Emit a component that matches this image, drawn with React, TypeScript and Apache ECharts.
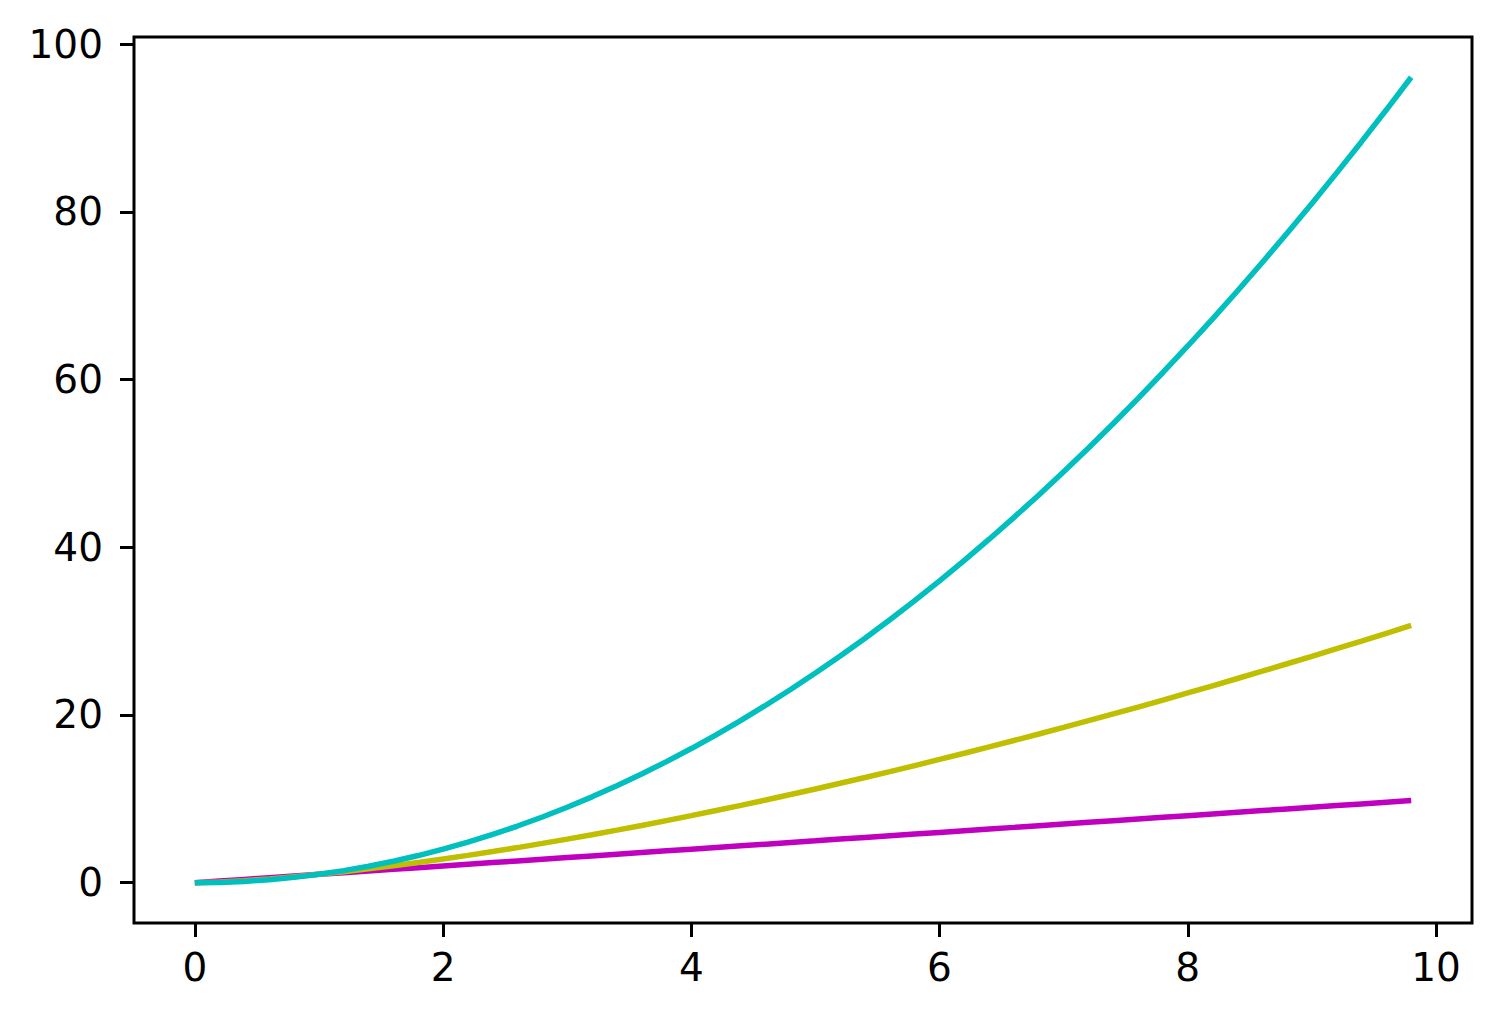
import React, { useEffect, useRef } from 'react';
import * as echarts from 'echarts';

// sample positions along x
const xs = [
    0, 0.2, 0.4, 0.6, 0.8, 1, 1.2, 1.4, 1.6, 1.8,
    2, 2.2, 2.4, 2.6, 2.8, 3, 3.2, 3.4, 3.6, 3.8,
    4, 4.2, 4.4, 4.6, 4.8, 5, 5.2, 5.4, 5.6, 5.8,
    6, 6.2, 6.4, 6.6, 6.8, 7, 7.2, 7.4, 7.6, 7.8,
    8, 8.2, 8.4, 8.6, 8.8, 9, 9.2, 9.4, 9.6, 9.8
];

// magenta line
const linear = [
    0, 0.2, 0.4, 0.6, 0.8, 1, 1.2, 1.4, 1.6, 1.8,
    2, 2.2, 2.4, 2.6, 2.8, 3, 3.2, 3.4, 3.6, 3.8,
    4, 4.2, 4.4, 4.6, 4.8, 5, 5.2, 5.4, 5.6, 5.8,
    6, 6.2, 6.4, 6.6, 6.8, 7, 7.2, 7.4, 7.6, 7.8,
    8, 8.2, 8.4, 8.6, 8.8, 9, 9.2, 9.4, 9.6, 9.8
];

// yellow curve
const middle = [
    0, 0.09, 0.25, 0.46, 0.72, 1, 1.31, 1.66, 2.02, 2.42,
    2.83, 3.26, 3.72, 4.19, 4.69, 5.2, 5.72, 6.27, 6.83, 7.41,
    8, 8.61, 9.23, 9.87, 10.52, 11.18, 11.86, 12.55, 13.25, 13.97,
    14.7, 15.44, 16.19, 16.96, 17.73, 18.52, 19.32, 20.13, 20.95, 21.78,
    22.63, 23.48, 24.35, 25.22, 26.11, 27, 27.91, 28.82, 29.74, 30.68
];

// cyan curve
const square = [
    0, 0.04, 0.16, 0.36, 0.64, 1, 1.44, 1.96, 2.56, 3.24,
    4, 4.84, 5.76, 6.76, 7.84, 9, 10.24, 11.56, 12.96, 14.44,
    16, 17.64, 19.36, 21.16, 23.04, 25, 27.04, 29.16, 31.36, 33.64,
    36, 38.44, 40.96, 43.56, 46.24, 49, 51.84, 54.76, 57.76, 60.84,
    64, 67.24, 70.56, 73.96, 77.44, 81, 84.64, 88.36, 92.16, 96.04
];

const xTicks = [0, 2, 4, 6, 8, 10];
const yTicks = [0, 20, 40, 60, 80, 100];

const pairs = (ys: number[]) => xs.map((x, i) => [x, ys[i]]);

const labelStyle = {
    color: '#000',
    fontSize: 39,
    fontFamily: 'DejaVu Sans'
};

const App: React.FC = () => {
    const chartRef = useRef<HTMLDivElement>(null);

    useEffect(() => {
        if (!chartRef.current) return;
        const chart = echarts.init(chartRef.current, null, { renderer: 'svg' });
        chart.setOption({
            animation: false,
            backgroundColor: '#fff',
            grid: {
                left: 134,
                right: 29,
                top: 37,
                bottom: 98,
                show: true,
                borderColor: '#000',
                borderWidth: 3,
                backgroundColor: 'transparent'
            },
            xAxis: {
                type: 'value',
                min: -0.49,
                max: 10.29,
                axisLine: { show: false, onZero: false },
                splitLine: { show: false },
                axisTick: {
                    show: true,
                    customValues: xTicks,
                    length: 14,
                    lineStyle: { color: '#000', width: 3 }
                },
                axisLabel: {
                    ...labelStyle,
                    customValues: xTicks,
                    margin: 25
                }
            },
            yAxis: {
                type: 'value',
                min: -4.802,
                max: 100.842,
                axisLine: { show: false, onZero: false },
                splitLine: { show: false },
                axisTick: {
                    show: true,
                    customValues: yTicks,
                    length: 14,
                    lineStyle: { color: '#000', width: 3 }
                },
                axisLabel: {
                    ...labelStyle,
                    customValues: yTicks,
                    margin: 31
                }
            },
            series: [
                { type: 'line', data: pairs(linear), showSymbol: false, lineStyle: { color: '#bf00bf', width: 5.5 } },
                { type: 'line', data: pairs(middle), showSymbol: false, lineStyle: { color: '#bfbf00', width: 5.5 } },
                { type: 'line', data: pairs(square), showSymbol: false, lineStyle: { color: '#00bfbf', width: 5.5 } }
            ]
        });
        return () => chart.dispose();
    }, []);

    return (
        <div
            ref={chartRef}
            style={{ position: 'fixed', left: 0, top: 0, width: 1501, height: 1021 }}
        />
    );
};

export default App;
